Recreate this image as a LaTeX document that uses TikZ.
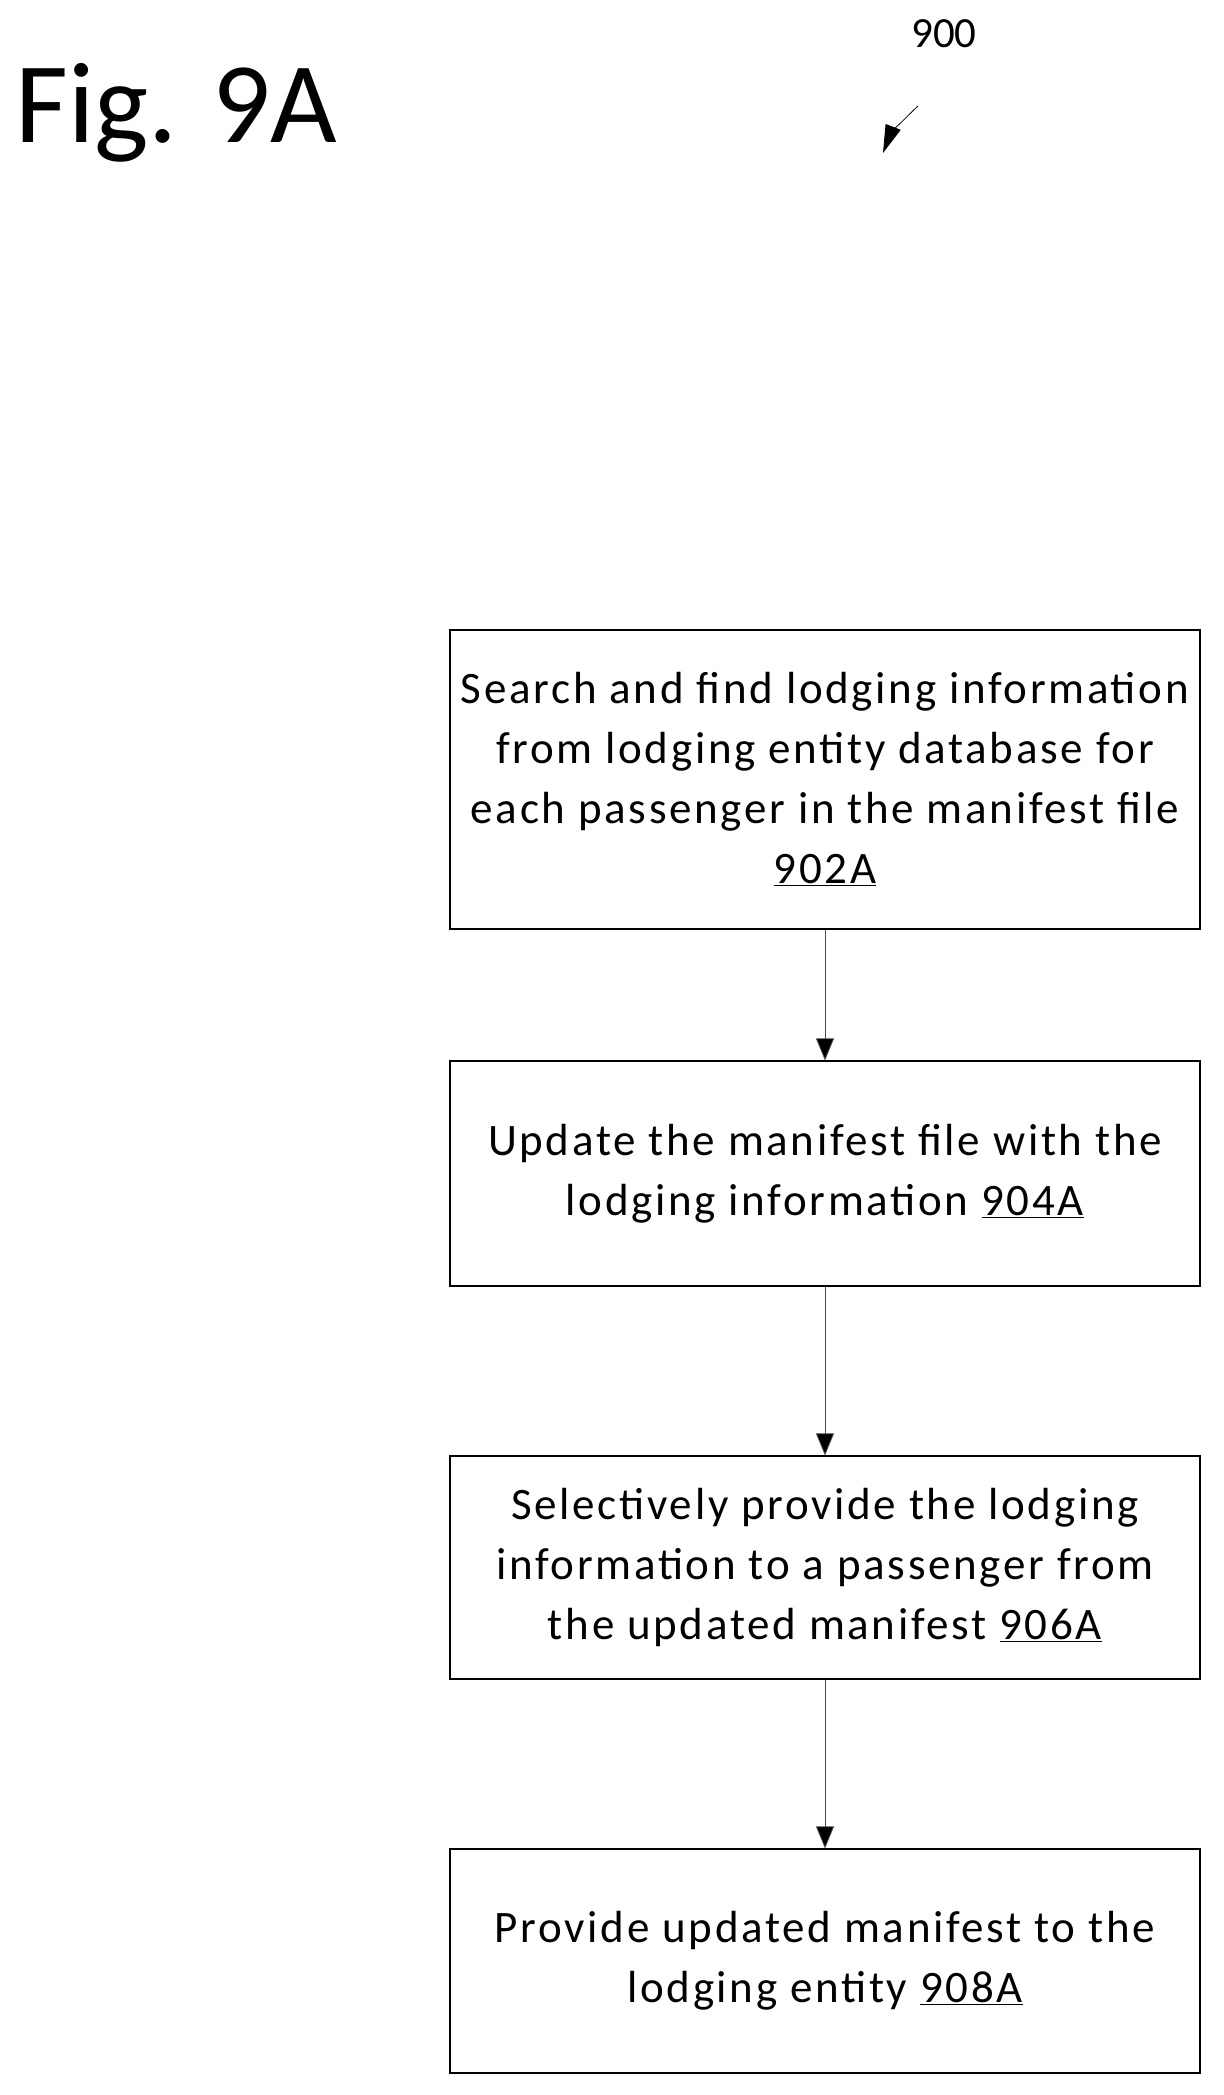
\documentclass[tikz,border=0pt]{standalone}
\usepackage{fontspec}
\setmainfont{Carlito}
\newfontfamily\boxfont[LetterSpace=6]{Carlito}
\usetikzlibrary{arrows.meta}
\begin{document}
\begin{tikzpicture}[x=1pt,y=1pt,
  box/.style={draw,line width=1.2pt,minimum width=750pt,align=center,font=\boxfont\fontsize{45}{60}\selectfont,inner sep=0pt},
  arr/.style={draw=black!70,line width=0.8pt,-{Triangle[length=22pt,width=18pt,fill=black]}}]
\useasboundingbox (0,0) rectangle (1223,-2095);
\node[anchor=base west,font=\fontsize{115}{120}\selectfont] (fig) at (12,-143) {Fig. 9A};
\node[anchor=base,font=\fontsize{43}{45}\selectfont] (num) at (944,-48) {900};
\coordinate (t) at (883,-153);
\draw[line width=0.8pt,-{Triangle[length=28pt,width=16pt]}] (918,-106) .. controls (905,-118) and (890,-135) .. (t);
\node[box,minimum height=299pt] (b1) at (825,-779.5) {Search and find lodging information\\from lodging entity database for\\each passenger in the manifest file\\\underline{902A}};
\node[box,minimum height=225pt] (b2) at (825,-1173.5) {Update the manifest file with the\\lodging information \underline{904A}};
\node[box,minimum height=223pt] (b3) at (825,-1567.5) {Selectively provide the lodging\\information to a passenger from\\the updated manifest \underline{906A}};
\node[box,minimum height=224pt] (b4) at (825,-1961) {Provide updated manifest to the\\lodging entity \underline{908A}};
\draw[arr] (b1) -- (b2);
\draw[arr] (b2) -- (b3);
\draw[arr] (b3) -- (b4);
\end{tikzpicture}
\end{document}
